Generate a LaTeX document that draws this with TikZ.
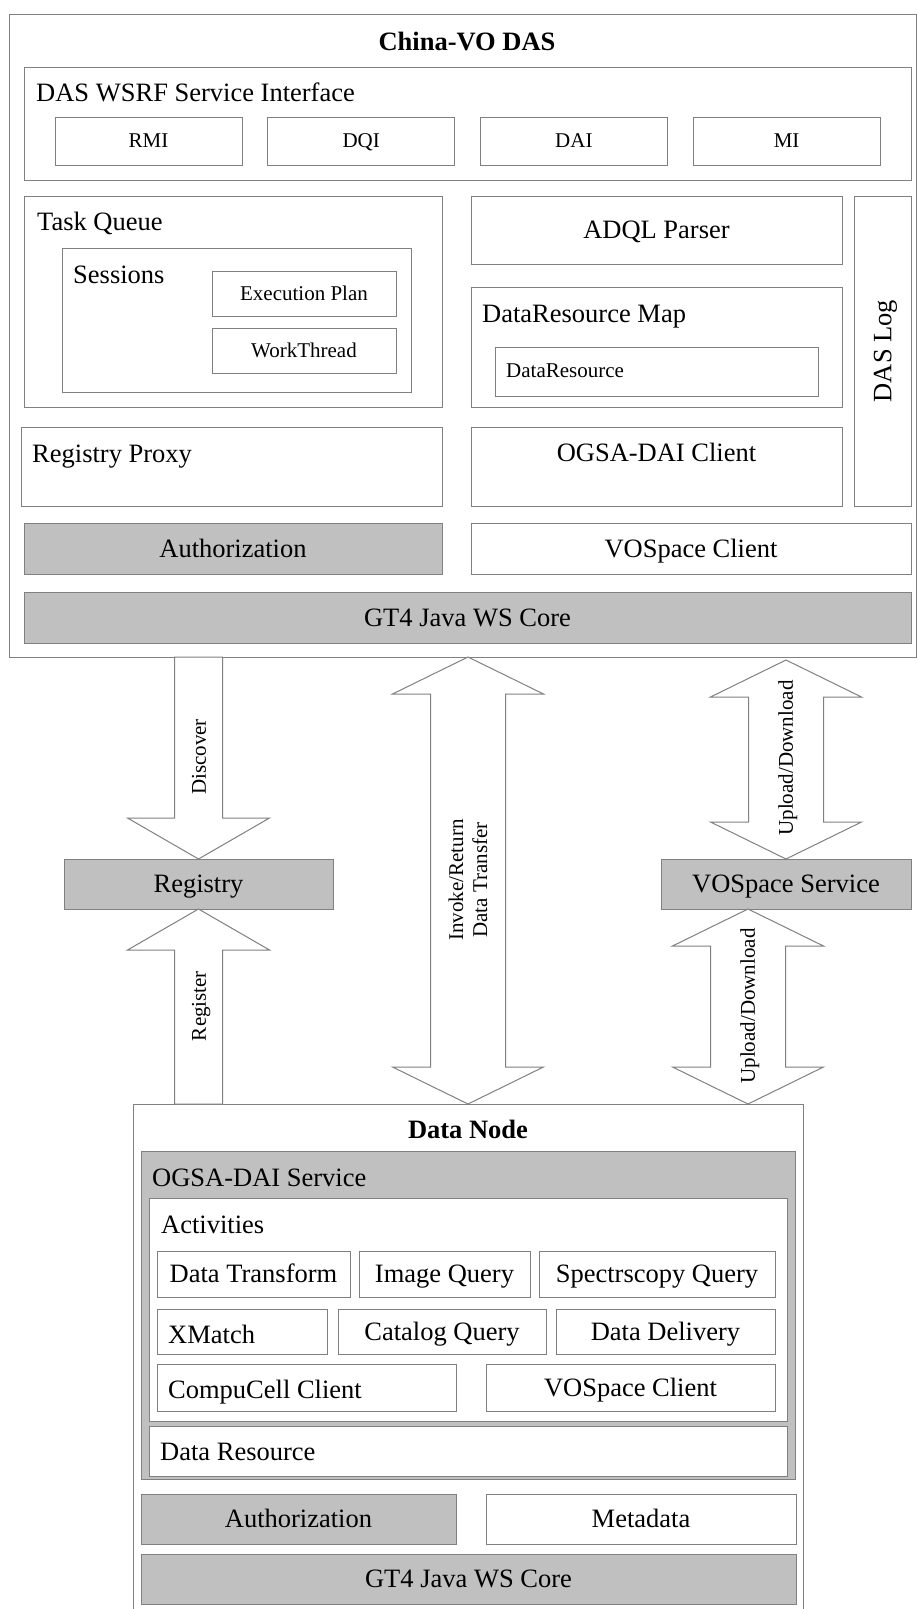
\documentclass[tikz,border=0pt]{standalone}
\usepackage{fontspec}
\setmainfont{Liberation Serif}
\usetikzlibrary{calc}
\definecolor{edge}{RGB}{128,128,128}
\definecolor{shade}{RGB}{192,192,192}
\tikzset{
  big/.style={font=\fontsize{26.5}{30}\selectfont, text height=17.5pt, text depth=0pt},
  small/.style={font=\fontsize{21}{24}\selectfont, text height=13.9pt, text depth=0pt},
  title/.style={font=\fontsize{26.5}{30}\selectfont\bfseries},
  span/.style n args={4}{at={(#1,#2)}, anchor=north west,
    minimum width={((#3)-(#1))*1pt}, minimum height={((#4)-(#2))*1pt}},
  box/.style={draw=edge, line width=1pt, fill=white, inner sep=0pt, outer sep=0pt, big},
  graybox/.style={box, fill=shade},
  lbl/.style={anchor=base west, inner sep=0pt},
  blk/.style={draw=edge, line width=1pt, fill=white},
}
% block arrows: tail/tip points given by node anchors
\newcommand\downblk[2]{\draw[blk] let \p1=#1, \p2=#2 in
  (\x2-24,\y1) -- (\x2+24,\y1) -- (\x2+24,\y2+41) -- (\x2+71,\y2+41) -- (\x2,\y2)
  -- (\x2-71,\y2+41) -- (\x2-24,\y2+41) -- cycle;}
\newcommand\upblk[2]{\draw[blk] let \p1=#1, \p2=#2 in
  (\x2-24,\y1) -- (\x2+24,\y1) -- (\x2+24,\y2-41) -- (\x2+71,\y2-41) -- (\x2,\y2)
  -- (\x2-71,\y2-41) -- (\x2-24,\y2-41) -- cycle;}
\newcommand\dblblk[2]{\draw[blk] let \p1=#1, \p2=#2 in
  (\x1,\y1) -- (\x1+75.5,\y1-37) -- (\x1+37.5,\y1-37) -- (\x1+37.5,\y2+37) -- (\x1+75.5,\y2+37)
  -- (\x1,\y2) -- (\x1-75.5,\y2+37) -- (\x1-37.5,\y2+37) -- (\x1-37.5,\y1-37) -- (\x1-75.5,\y1-37) -- cycle;}
\begin{document}
\begin{tikzpicture}[x=1pt,y=-1pt]
\useasboundingbox (0,0) rectangle (917,1609);
\clip (0,0) rectangle (917,1609);
% China-VO DAS
\node[box, span={9.5}{14}{916}{657}] (das) {};
\node[title, anchor=base] (dastitle) at (467,50) {China-VO DAS};
\node[box, span={24}{67}{911}{180}] (wsrf) {};
\node[big, lbl] (wsrflbl) at (36,101) {DAS WSRF Service Interface};
\foreach \n [count=\i from 0] in {RMI,DQI,DAI,MI}
  \node[box, small, span={55+212.7*\i}{117}{242+212.7*\i}{165}] (\n) {\n};
\node[box, span={24}{196}{442}{407}] (taskq) {};
\node[big, lbl] (taskqlbl) at (37,230) {Task Queue};
\node[box, span={62}{248}{411}{392}] (sess) {};
\node[big, lbl] (sesslbl) at (73,283) {Sessions};
\node[box, small, span={212}{271}{396}{316}] (plan) {Execution Plan};
\node[box, small, span={212}{328}{396}{373}] (thread) {WorkThread};
\node[box, span={471}{196}{842}{264}] (adql) {ADQL Parser};
\node[box, span={471}{287}{842}{407}] (drmap) {};
\node[big, lbl] (drmaplbl) at (482,322) {DataResource Map};
\node[box, span={495}{347}{818}{396}] (dres) {};
\node[small, lbl] (dreslbl) at (506,377) {DataResource};
\node[box, span={854}{196}{911}{506}] (daslog) {};
\node[big, rotate=90] (dasloglbl) at (daslog.center) {DAS Log};
\node[box, span={21}{427}{442}{506}] (regproxy) {};
\node[big, lbl] (regproxylbl) at (32,462) {Registry Proxy};
\node[box, span={471}{427}{842}{506}] (ogsacl) {};
\node[big, anchor=base, inner sep=0pt] (ogsacllbl) at (656.5,461) {OGSA-DAI Client};
\node[graybox, span={24}{523}{442}{574}] (dasauth) {Authorization};
\node[box, span={471}{523}{911}{574}] (vocl) {VOSpace Client};
\node[graybox, span={24}{592}{911}{643}] (dascore) {GT4 Java WS Core};
% services in the middle
\node[graybox, span={64}{859}{333}{909}] (registry) {Registry};
\node[graybox, span={661}{859}{911}{909}] (vospace) {VOSpace Service};
% Data Node
\node[box, span={133}{1104}{803}{1640}] (datanode) {};
\node[title, anchor=base] (dntitle) at (468,1138) {Data Node};
\node[graybox, span={141}{1151}{795}{1479}] (ogsasrv) {};
\node[big, lbl] (ogsasrvlbl) at (152,1186) {OGSA-DAI Service};
\node[box, span={149}{1198}{787}{1421}] (acts) {};
\node[big, lbl] (actslbl) at (161,1233) {Activities};
\node[box, span={157}{1251}{350}{1297}] (dtrans) {Data Transform};
\node[box, span={359}{1251}{530}{1297}] (imgq) {Image Query};
\node[box, span={539}{1251}{775}{1297}] (specq) {Spectrscopy Query};
\node[box, span={157}{1309}{327}{1354}] (xmatch) {};
\node[big, lbl] (xmatchlbl) at (168,1343) {XMatch};
\node[box, span={338}{1309}{546}{1354}] (catq) {Catalog Query};
\node[box, span={556}{1309}{775}{1354}] (deliv) {Data Delivery};
\node[box, span={157}{1364}{456}{1411}] (compu) {};
\node[big, lbl] (compulbl) at (168,1398) {CompuCell Client};
\node[box, span={486}{1364}{775}{1411}] (dnvocl) {VOSpace Client};
\node[box, span={149}{1426}{787}{1476}] (dnres) {};
\node[big, lbl] (dnreslbl) at (160,1460) {Data Resource};
\node[graybox, span={141}{1494}{456}{1544}] (dnauth) {Authorization};
\node[box, span={486}{1494}{796}{1544}] (meta) {Metadata};
\node[graybox, span={141}{1554}{796}{1604}] (dncore) {GT4 Java WS Core};
% block arrows
\coordinate (udtop) at ($(vospace.south west)+(87,0)$);
\downblk{(registry.north |- das.south)}{(registry.north)}
\upblk{(registry.south |- datanode.north)}{(registry.south)}
\dblblk{(datanode.north |- das.south)}{(datanode.north)}
\dblblk{($(vospace.north |- das.south)+(0,3)$)}{(vospace.north)}
\dblblk{(udtop)}{(udtop |- datanode.north)}
\node[small, rotate=90] (disc) at (199,757) {Discover};
\node[small, rotate=90] (reg) at (199,1006) {Register};
\node[small, rotate=90, align=center, text height=, text depth=] (inv) at (468,880) {Invoke/Return\\Data Transfer};
\node[small, rotate=90] (upd1) at (786,758) {Upload/Download};
\node[small, rotate=90] (upd2) at (748,1006) {Upload/Download};
\end{tikzpicture}
\end{document}
